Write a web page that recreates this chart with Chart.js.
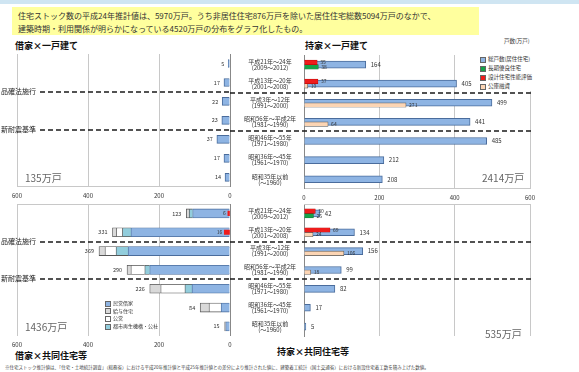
<!DOCTYPE html>
<html>
<head>
<meta charset="utf-8">
<script src="https://cdn.jsdelivr.net/npm/chart.js@4.4.0/dist/chart.umd.min.js"></script>
<style>
  body { margin: 0; width: 579px; height: 372px; background: #fff; position: relative; overflow: hidden;
         font-family: "Noto Sans CJK JP", sans-serif; color: #222; }
  .abs { position: absolute; white-space: nowrap; }
  canvas { position: absolute; }
  .title { font-size: 9px; font-weight: bold; color: #111; }
  .total { font-size: 10px; color: #666; }
  .sw { display: inline-block; width: 4px; height: 4px; border: 0.5px solid #666; margin-right: 2px; vertical-align: middle; }
</style>
</head>
<body>
<div class="abs" style="left:0;top:0;width:579px;height:4px;background:#cfe5f2"></div>
<div class="abs" style="left:12px;top:7px;width:467px;height:28px;background:#ffff9e"></div>
<div class="abs" style="left:18px;top:9px;font-size:8px;line-height:13px;color:#333">
  住宅ストック数の平成24年推計値は、5970万戸。うち非居住住宅876万戸を除いた居住住宅総数5094万戸のなかで、<br>
  建築時期・利用関係が明らかになっている4520万戸の分布をグラフ化したもの。
</div>

<div class="abs title" style="left:15px;top:39px">借家×一戸建て</div>
<div class="abs title" style="left:305px;top:39px">持家×一戸建て</div>
<div class="abs title" style="left:15px;top:349px">借家×共同住宅等</div>
<div class="abs title" style="left:277px;top:345px">持家×共同住宅等</div>
<div class="abs" style="left:504px;top:37px;font-size:5.5px;color:#333">戸数(万戸)</div>

<canvas id="tl" width="232" height="156" style="left:0;top:48px"></canvas>
<canvas id="tr" width="315" height="157" style="left:230px;top:49px"></canvas>
<canvas id="bl" width="232" height="155" style="left:0;top:198px"></canvas>
<canvas id="br" width="315" height="151" style="left:230px;top:198px"></canvas>

<div class="abs" style="left:478px;top:55px;font-size:5.5px;line-height:9px;color:#333;background:#fff;padding:0 2px">
  <span class="sw" style="background:#8eb4e3"></span>総戸数(居住住宅)<br>
  <span class="sw" style="background:#16a34a"></span>長期優良住宅<br>
  <span class="sw" style="background:#ee1c1c"></span>設計住宅性能評価<br>
  <span class="sw" style="background:#fcd5b4"></span>公庫融資
</div>
<div class="abs" style="left:105px;top:299px;font-size:5px;line-height:7.5px;color:#333">
  <span class="sw" style="background:#8eb4e3"></span>民営借家<br>
  <span class="sw" style="background:#d9d9d9"></span>給与住宅<br>
  <span class="sw" style="background:#ffffff"></span>公営<br>
  <span class="sw" style="background:#92cddc"></span>都市再生機構・公社
</div>

<div class="abs total" style="left:25px;top:170px">135万戸</div>
<div class="abs total" style="left:482px;top:170px">2414万戸</div>
<div class="abs total" style="left:25px;top:319px">1436万戸</div>
<div class="abs total" style="left:485px;top:326px">535万戸</div>

<div class="abs" style="left:5px;top:364px;font-size:4.5px;color:#444">
  ※住宅ストック推計値は、「住宅・土地統計調査」（総務省）における平成20年推計値と平成25年推計値との差分により推計された値に、建築着工統計（国土交通省）における新設住宅着工数を積み上げた数値。
</div>

<script>
const categories = [
  ['平成21年～24年', '(2009～2012)'],
  ['平成13年～20年', '(2001～2008)'],
  ['平成3年～12年', '(1991～2000)'],
  ['昭和56年～平成2年', '(1981～1990)'],
  ['昭和46年～55年', '(1971～1980)'],
  ['昭和36年～45年', '(1961～1970)'],
  ['昭和35年以前', '(～1960)']
];
const xTicks = [0, 200, 400, 600];

// 借家×一戸建て
const rentDetached = [5, 17, 22, 23, 37, 17, 14];

// 持家×一戸建て
const ownDetachedTotal = [164, 405, 499, 441, 485, 212, 208];
const ownDetachedLongLife = [38, null, null, null, null, null, null];
const ownDetachedPerf = [35, 37, null, null, null, null, null];
const ownDetachedLoan = [null, 10, 271, 64, null, null, null];

// 借家×共同住宅等
const rentAptPrivate = [105, 279, 287, 226, 107, 25, 12];
const rentAptUR = [10, 24, 34, 14, 20, 0, 0];
const rentAptPublic = [0, 17, 31, 39, 68, 34, 0];
const rentAptCompany = [8, 11, 17, 11, 31, 25, 3];
const rentAptPerf = [6, 16, null, null, null, null, null];

// 持家×共同住宅等
const ownAptTotal = [42, 134, 156, 99, 82, 17, 5];
const ownAptLongLife = [25, null, null, null, null, null, null];
const ownAptPerf = [30, 69, null, null, null, null, null];
const ownAptLoan = [null, 24, 106, 18, null, null, null];

const BLUE = '#8eb4e3', BLUE_LINE = '#4a6c9c';
const RED = '#ee1c1c', GREEN = '#16a34a', PEACH = '#fcd5b4';
const CYAN = '#92cddc', WHITE = '#ffffff', GRAY = '#d9d9d9';
const FONT = '"Noto Sans CJK JP", sans-serif';

Chart.defaults.font.family = FONT;
Chart.defaults.color = '#333';
Chart.defaults.animation = false;

// value labels at the bar ends
const valueLabels = {
  id: 'valueLabels',
  afterDatasetsDraw(chart) {
    const ctx = chart.ctx;
    const rev = chart.scales.x.options.reverse;
    ctx.save();
    ctx.textBaseline = 'middle';
    ctx.textAlign = rev ? 'right' : 'left';
    chart.data.datasets.forEach((ds, i) => {
      if (!ds.showVal) return;
      const meta = chart.getDatasetMeta(i);
      ctx.font = (ds.valSize || 6) + 'px ' + FONT;
      ctx.fillStyle = ds.valColor || '#333';
      meta.data.forEach((bar, j) => {
        let v = ds.data[j];
        if (ds.showVal === 'stack') {
          v = chart.data.datasets.filter(d => d.stack === ds.stack)
            .reduce((s, d) => s + (d.data[j] || 0), 0);
        }
        if (v == null) return;
        const gap = ds.valGap || 4;
        ctx.fillText(v, bar.x + (rev ? -gap : gap), bar.y + (ds.valDy || 0));
      });
    });
    ctx.restore();
  }
};

// dashed era lines (品確法施行 / 新耐震基準)
const eraLines = {
  id: 'eraLines',
  afterDraw(chart, args, opts) {
    const y = chart.scales.y;
    const ctx = chart.ctx;
    ctx.save();
    [[1, '品確法施行'], [3, '新耐震基準']].forEach(([i, text]) => {
      const py = Math.round((y.getPixelForValue(i) + y.getPixelForValue(i + 1)) / 2);
      let x0 = 0;
      if (opts.text) {
        ctx.font = '7px ' + FONT;
        ctx.fillStyle = '#222';
        ctx.textBaseline = 'middle';
        ctx.fillText(text, 1, py - 1);
        x0 = ctx.measureText(text).width + 5;
      }
      ctx.setLineDash([5, 3]);
      ctx.lineWidth = 1.6;
      ctx.strokeStyle = '#1a1a1a';
      ctx.beginPath();
      ctx.moveTo(x0, py);
      ctx.lineTo(opts.toRight ? chart.chartArea.right + 3 : chart.width, py);
      ctx.stroke();
    });
    ctx.restore();
  }
};

// thin line along the top of the plot area
const frameTop = {
  id: 'frameTop',
  beforeDatasetsDraw(chart, args, opts) {
    if (!opts.on) return;
    const { ctx, chartArea } = chart;
    ctx.save();
    ctx.strokeStyle = '#c8c8c8';
    ctx.lineWidth = 1;
    ctx.beginPath();
    ctx.moveTo(chartArea.left, chartArea.top + 0.5);
    ctx.lineTo(chartArea.right, chartArea.top + 0.5);
    ctx.stroke();
    ctx.restore();
  }
};

function xScale(reverse, showTicks, showBorder) {
  return {
    type: 'linear', min: 0, max: 600, reverse,
    afterBuildTicks: s => { s.ticks = xTicks.map(v => ({ value: v })); },
    grid: { color: '#c8c8c8', lineWidth: 1, drawTicks: false },
    border: { display: showBorder, color: '#c8c8c8' },
    ticks: { display: showTicks, font: { size: 6 }, padding: 5, color: '#333' }
  };
}
function leftChartY() {
  return {
    type: 'category', position: 'right', offset: true,
    grid: { display: false },
    border: { display: true, color: '#888' },
    ticks: { display: false },
    afterFit: s => { s.width = 0; }
  };
}
function rightChartY() {
  return {
    type: 'category', position: 'left', offset: true,
    grid: { display: false },
    border: { display: true, color: '#888' },
    ticks: { font: { size: 6, lineHeight: 1.0 }, color: '#333', crossAlign: 'center', padding: 0 },
    afterFit: s => { s.width = 74; }
  };
}
const baseOptions = (extra) => Object.assign({
  indexAxis: 'y',
  responsive: false,
  devicePixelRatio: 1,
  plugins: { legend: { display: false }, tooltip: { enabled: false } }
}, extra);

// a centred bar that ignores grouping
const solo = (px) => ({ grouped: false, barThickness: px, categoryPercentage: 1, barPercentage: 1 });

// 借家×一戸建て
new Chart(document.getElementById('tl'), {
  type: 'bar',
  data: {
    labels: categories,
    datasets: [Object.assign({
      label: '借家×一戸建て', data: rentDetached,
      backgroundColor: BLUE, borderColor: BLUE_LINE, borderWidth: 1,
      showVal: true, valSize: 5.5
    }, solo(8))]
  },
  options: baseOptions({
    layout: { padding: { left: 17, right: 2, top: 6, bottom: 0 } },
    scales: { x: xScale(true, true, true), y: leftChartY() },
    plugins: { legend: { display: false }, tooltip: { enabled: false }, eraLines: { text: true } }
  }),
  plugins: [valueLabels, eraLines]
});

// 持家×一戸建て / 持家×共同住宅等 share the same bar layout:
// red sits in the upper slot, green / peach in the lower slot, blue total centred
function ownedChart(id, total, longLife, perf, loan, showTicks) {
  return new Chart(document.getElementById(id), {
    type: 'bar',
    data: {
      labels: categories,
      datasets: [
        { label: '設計住宅性能評価', data: perf, stack: 'r',
          backgroundColor: RED, borderColor: '#a00', borderWidth: 0.5,
          barThickness: 4.5, showVal: true, valSize: 5, valGap: 3 },
        { label: '長期優良住宅', data: longLife, stack: 'low',
          backgroundColor: GREEN, borderColor: '#0b6b2e', borderWidth: 0.5,
          barThickness: 4.5, showVal: true, valSize: 5, valGap: 3 },
        { label: '公庫融資', data: loan, stack: 'low',
          backgroundColor: PEACH, borderColor: '#555', borderWidth: 0.7,
          barThickness: 4.5, showVal: true, valSize: 5, valGap: 3 },
        Object.assign({ label: '総戸数(居住住宅)', data: total,
          backgroundColor: BLUE, borderColor: BLUE_LINE, borderWidth: 1,
          showVal: true, valSize: 6, valGap: 5 }, solo(7))
      ]
    },
    options: baseOptions({
      layout: { padding: { left: 0, right: 15, top: 6, bottom: showTicks ? 0 : 13 } },
      scales: { x: xScale(false, showTicks, showTicks), y: rightChartY() },
      plugins: { legend: { display: false }, tooltip: { enabled: false },
                 eraLines: { text: false, toRight: true }, frameTop: { on: !showTicks } }
    }),
    plugins: [valueLabels, eraLines, frameTop]
  });
}
ownedChart('tr', ownDetachedTotal, ownDetachedLongLife, ownDetachedPerf, ownDetachedLoan, true);
ownedChart('br', ownAptTotal, ownAptLongLife, ownAptPerf, ownAptLoan, false);

// 借家×共同住宅等
const segBorder = '#555';
const seg = (label, data, bg, line, extra) => Object.assign({
  label, data, stack: 'm', backgroundColor: bg, borderColor: line, borderWidth: 0.8
}, solo(9), extra || {});
new Chart(document.getElementById('bl'), {
  type: 'bar',
  data: {
    labels: categories,
    datasets: [
      Object.assign({ label: '設計住宅性能評価', data: rentAptPerf, stack: 'r',
        backgroundColor: RED, borderWidth: 0, showVal: true, valSize: 5, valGap: 2 }, solo(4.5)),
      seg('民営借家', rentAptPrivate, BLUE, BLUE_LINE),
      seg('都市再生機構・公社', rentAptUR, CYAN, segBorder),
      seg('公営', rentAptPublic, WHITE, segBorder),
      seg('給与住宅', rentAptCompany, GRAY, segBorder, { showVal: 'stack', valSize: 5.5, valGap: 5 })
    ]
  },
  options: baseOptions({
    layout: { padding: { left: 17, right: 2, top: 6, bottom: 0 } },
    scales: { x: xScale(true, true, false), y: leftChartY() },
    plugins: { legend: { display: false }, tooltip: { enabled: false },
               eraLines: { text: true }, frameTop: { on: true } }
  }),
  plugins: [valueLabels, eraLines, frameTop]
});
</script>
</body>
</html>
